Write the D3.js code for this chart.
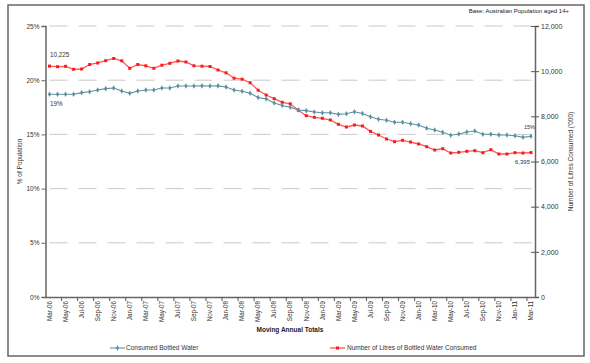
<!DOCTYPE html>
<html><head><meta charset="utf-8">
<script src="https://cdn.jsdelivr.net/npm/d3@7"></script>
<style>
html,body{margin:0;padding:0;background:#fff;}
svg{display:block;font-family:"Liberation Sans",Arial,sans-serif;}
</style></head>
<body><svg id="c" width="590" height="363"></svg>
<script>
const months = ["Mar","Apr","May","Jun","Jul","Aug","Sep","Oct","Nov","Dec","Jan","Feb"];
const categories = [];
for (let i = 0; i <= 60; i++) {
  const m = months[i % 12];
  const yr = 6 + Math.floor((i + 2) / 12);
  categories.push(m + "-" + String(yr).padStart(2, "0"));
}
const consumedPct = [18.70,18.70,18.70,18.70,18.85,18.94,19.10,19.22,19.28,19.00,18.79,19.00,19.10,19.10,19.28,19.28,19.47,19.47,19.47,19.48,19.47,19.48,19.37,19.10,18.98,18.79,18.40,18.28,17.90,17.67,17.50,17.25,17.19,17.07,17.00,17.00,16.85,16.91,17.09,16.93,16.63,16.39,16.30,16.12,16.12,15.99,15.87,15.56,15.41,15.19,14.92,15.04,15.22,15.31,15.01,15.01,14.94,14.94,14.88,14.73,14.83];
const litres = [10225,10198,10215,10083,10096,10295,10362,10463,10561,10459,10127,10295,10238,10127,10264,10348,10450,10406,10238,10220,10207,10052,9928,9689,9644,9489,9157,8945,8781,8621,8555,8272,8028,7957,7913,7838,7647,7528,7616,7572,7333,7173,6996,6877,6939,6863,6775,6655,6509,6567,6376,6407,6452,6478,6390,6522,6332,6332,6390,6376,6395];
const leftTicks = [0,5,10,15,20,25];
const rightTicks = [0,2000,4000,6000,8000,10000,12000];
const seriesNames = ["Consumed Bottled Water","Number of Litres of Bottled Water Consumed"];

const svg = d3.select("#c");
const L = 45.5, R = 535, T = 26, B = 297;
const x = d3.scaleBand().domain(categories).range([L, R]).padding(0);
const bw = x.bandwidth();
const cx = c => x(c) + bw / 2;
const yL = d3.scaleLinear().domain([0,25]).range([B, T]);
const yR = d3.scaleLinear().domain([0,12000]).range([B, T]);

// frame
svg.append("rect").attr("x",8).attr("y",5).attr("width",576).attr("height",351)
  .attr("fill","none").attr("stroke","#666").attr("stroke-width",1.5);

// base note
svg.append("text").attr("x",569).attr("y",13).attr("text-anchor","end")
  .attr("font-size",6).attr("fill","#222").text("Base: Australian Population aged 14+");

// gridlines
svg.append("g").selectAll("line").data(leftTicks.filter(d=>d>0)).join("line")
  .attr("x1",L).attr("x2",R).attr("y1",d=>yL(d)).attr("y2",d=>yL(d))
  .attr("stroke","#bdbdbd").attr("stroke-width",0.8).attr("stroke-dasharray","18,11")
  .attr("stroke-dashoffset",-4);

// left axis
const gl = svg.append("g").attr("transform",`translate(${L},0)`)
  .call(d3.axisLeft(yL).tickValues(leftTicks).tickFormat(d=>d+"%").tickSize(4).tickPadding(2));
gl.select(".domain").attr("stroke","#666").attr("stroke-width",1.5);
gl.selectAll(".tick line").attr("stroke","#666");
gl.selectAll(".tick text").attr("font-size",6.5).attr("fill","#333").attr("font-family","Liberation Sans, Arial, sans-serif");

// right axis
const gr = svg.append("g").attr("transform",`translate(${R},0)`)
  .call(d3.axisRight(yR).tickValues(rightTicks).tickFormat(d3.format(",")).tickSize(4).tickPadding(2));
gr.select(".domain").attr("stroke","#666").attr("stroke-width",1.5);
gr.selectAll(".tick line").attr("stroke","#555").attr("x1",-4).attr("x2",4);
gr.selectAll(".tick text").attr("font-size",7).attr("fill","#333").attr("font-family","Liberation Sans, Arial, sans-serif");

// bottom axis
const xLabels = categories.filter((c,i)=>i%2===0);
const gb = svg.append("g").attr("transform",`translate(0,${B})`)
  .call(d3.axisBottom(x).tickValues(xLabels).tickSize(0).tickPadding(0));
gb.select(".domain").attr("stroke","#666").attr("stroke-width",1.5);
gb.selectAll(".tick text").attr("font-size",6.3).attr("fill","#333")
  .attr("font-family","Liberation Sans, Arial, sans-serif")
  .attr("text-anchor","end").attr("transform","rotate(-90)")
  .attr("x",-4).attr("y",0).attr("dy","0.35em");
// tick marks between categories
svg.append("g").selectAll("line").data(xLabels.slice(1)).join("line")
  .attr("x1",d=>x(d)).attr("x2",d=>x(d)).attr("y1",B).attr("y2",B+4)
  .attr("stroke","#555").attr("stroke-width",1);

// axis titles
svg.append("text").attr("transform",`translate(22,${(T+B)/2}) rotate(-90)`)
  .attr("text-anchor","middle").attr("font-size",6.5).attr("fill","#333").text("% of Population");
svg.append("text").attr("transform",`translate(573,${(T+B)/2}) rotate(-90)`)
  .attr("text-anchor","middle").attr("font-size",6.5).attr("fill","#333").text("Number of Litres Consumed ('000)");
svg.append("text").attr("x",290).attr("y",332).attr("text-anchor","middle")
  .attr("font-size",6.5).attr("font-weight","bold").attr("fill","#222").text("Moving Annual Totals");

const blue = "#5e90a2", red = "#ff1a1a";

// red series
svg.append("path").datum(litres).attr("fill","none").attr("stroke","#ff5555").attr("stroke-width",1.3)
  .attr("d", d3.line().x((d,i)=>cx(categories[i])).y(d=>yR(d)));
svg.append("g").selectAll("rect").data(litres).join("rect")
  .attr("x",(d,i)=>cx(categories[i])-1.5).attr("y",d=>yR(d)-1.5).attr("width",3).attr("height",3)
  .attr("fill",red);

// blue series
svg.append("path").datum(consumedPct).attr("fill","none").attr("stroke",blue).attr("stroke-width",1.1)
  .attr("d", d3.line().x((d,i)=>cx(categories[i])).y(d=>yL(d)));
svg.append("g").selectAll("path").data(consumedPct).join("path")
  .attr("d",d3.symbol(d3.symbolDiamond, 9))
  .attr("transform",(d,i)=>`translate(${cx(categories[i])},${yL(d)})`)
  .attr("fill",blue);

// data labels
const lab = (t,xx,yy,anchor)=>svg.append("text").attr("x",xx).attr("y",yy).attr("text-anchor",anchor||"start")
  .attr("font-size",6.3).attr("fill","#333").text(t);
lab(d3.format(",")(litres[0]), 50, yR(litres[0]) - 9);
lab(Math.round(consumedPct[0])+"%", 50, yL(consumedPct[0]) + 12);
lab(Math.round(consumedPct[60])+"%", 535, yL(consumedPct[60]) - 7, "end").attr("font-size",5.5);
lab(d3.format(",")(litres[60]), 530, yR(litres[60]) + 11, "end").attr("font-size",6);

// legend
const lg = svg.append("g");
lg.append("line").attr("x1",110).attr("x2",125).attr("y1",348).attr("y2",348).attr("stroke",blue).attr("stroke-width",1.1);
lg.append("path").attr("d",d3.symbol(d3.symbolDiamond,9)).attr("transform","translate(117.5,348)").attr("fill",blue);
lg.append("text").attr("x",126).attr("y",350.3).attr("font-size",6.5).attr("fill","#333").text(seriesNames[0]);
lg.append("line").attr("x1",330).attr("x2",345).attr("y1",348).attr("y2",348).attr("stroke","#ff5555").attr("stroke-width",1.3);
lg.append("rect").attr("x",336).attr("y",346.5).attr("width",3).attr("height",3).attr("fill",red);
lg.append("text").attr("x",347).attr("y",350.3).attr("font-size",6.5).attr("fill","#333").text(seriesNames[1]);
</script></body></html>
